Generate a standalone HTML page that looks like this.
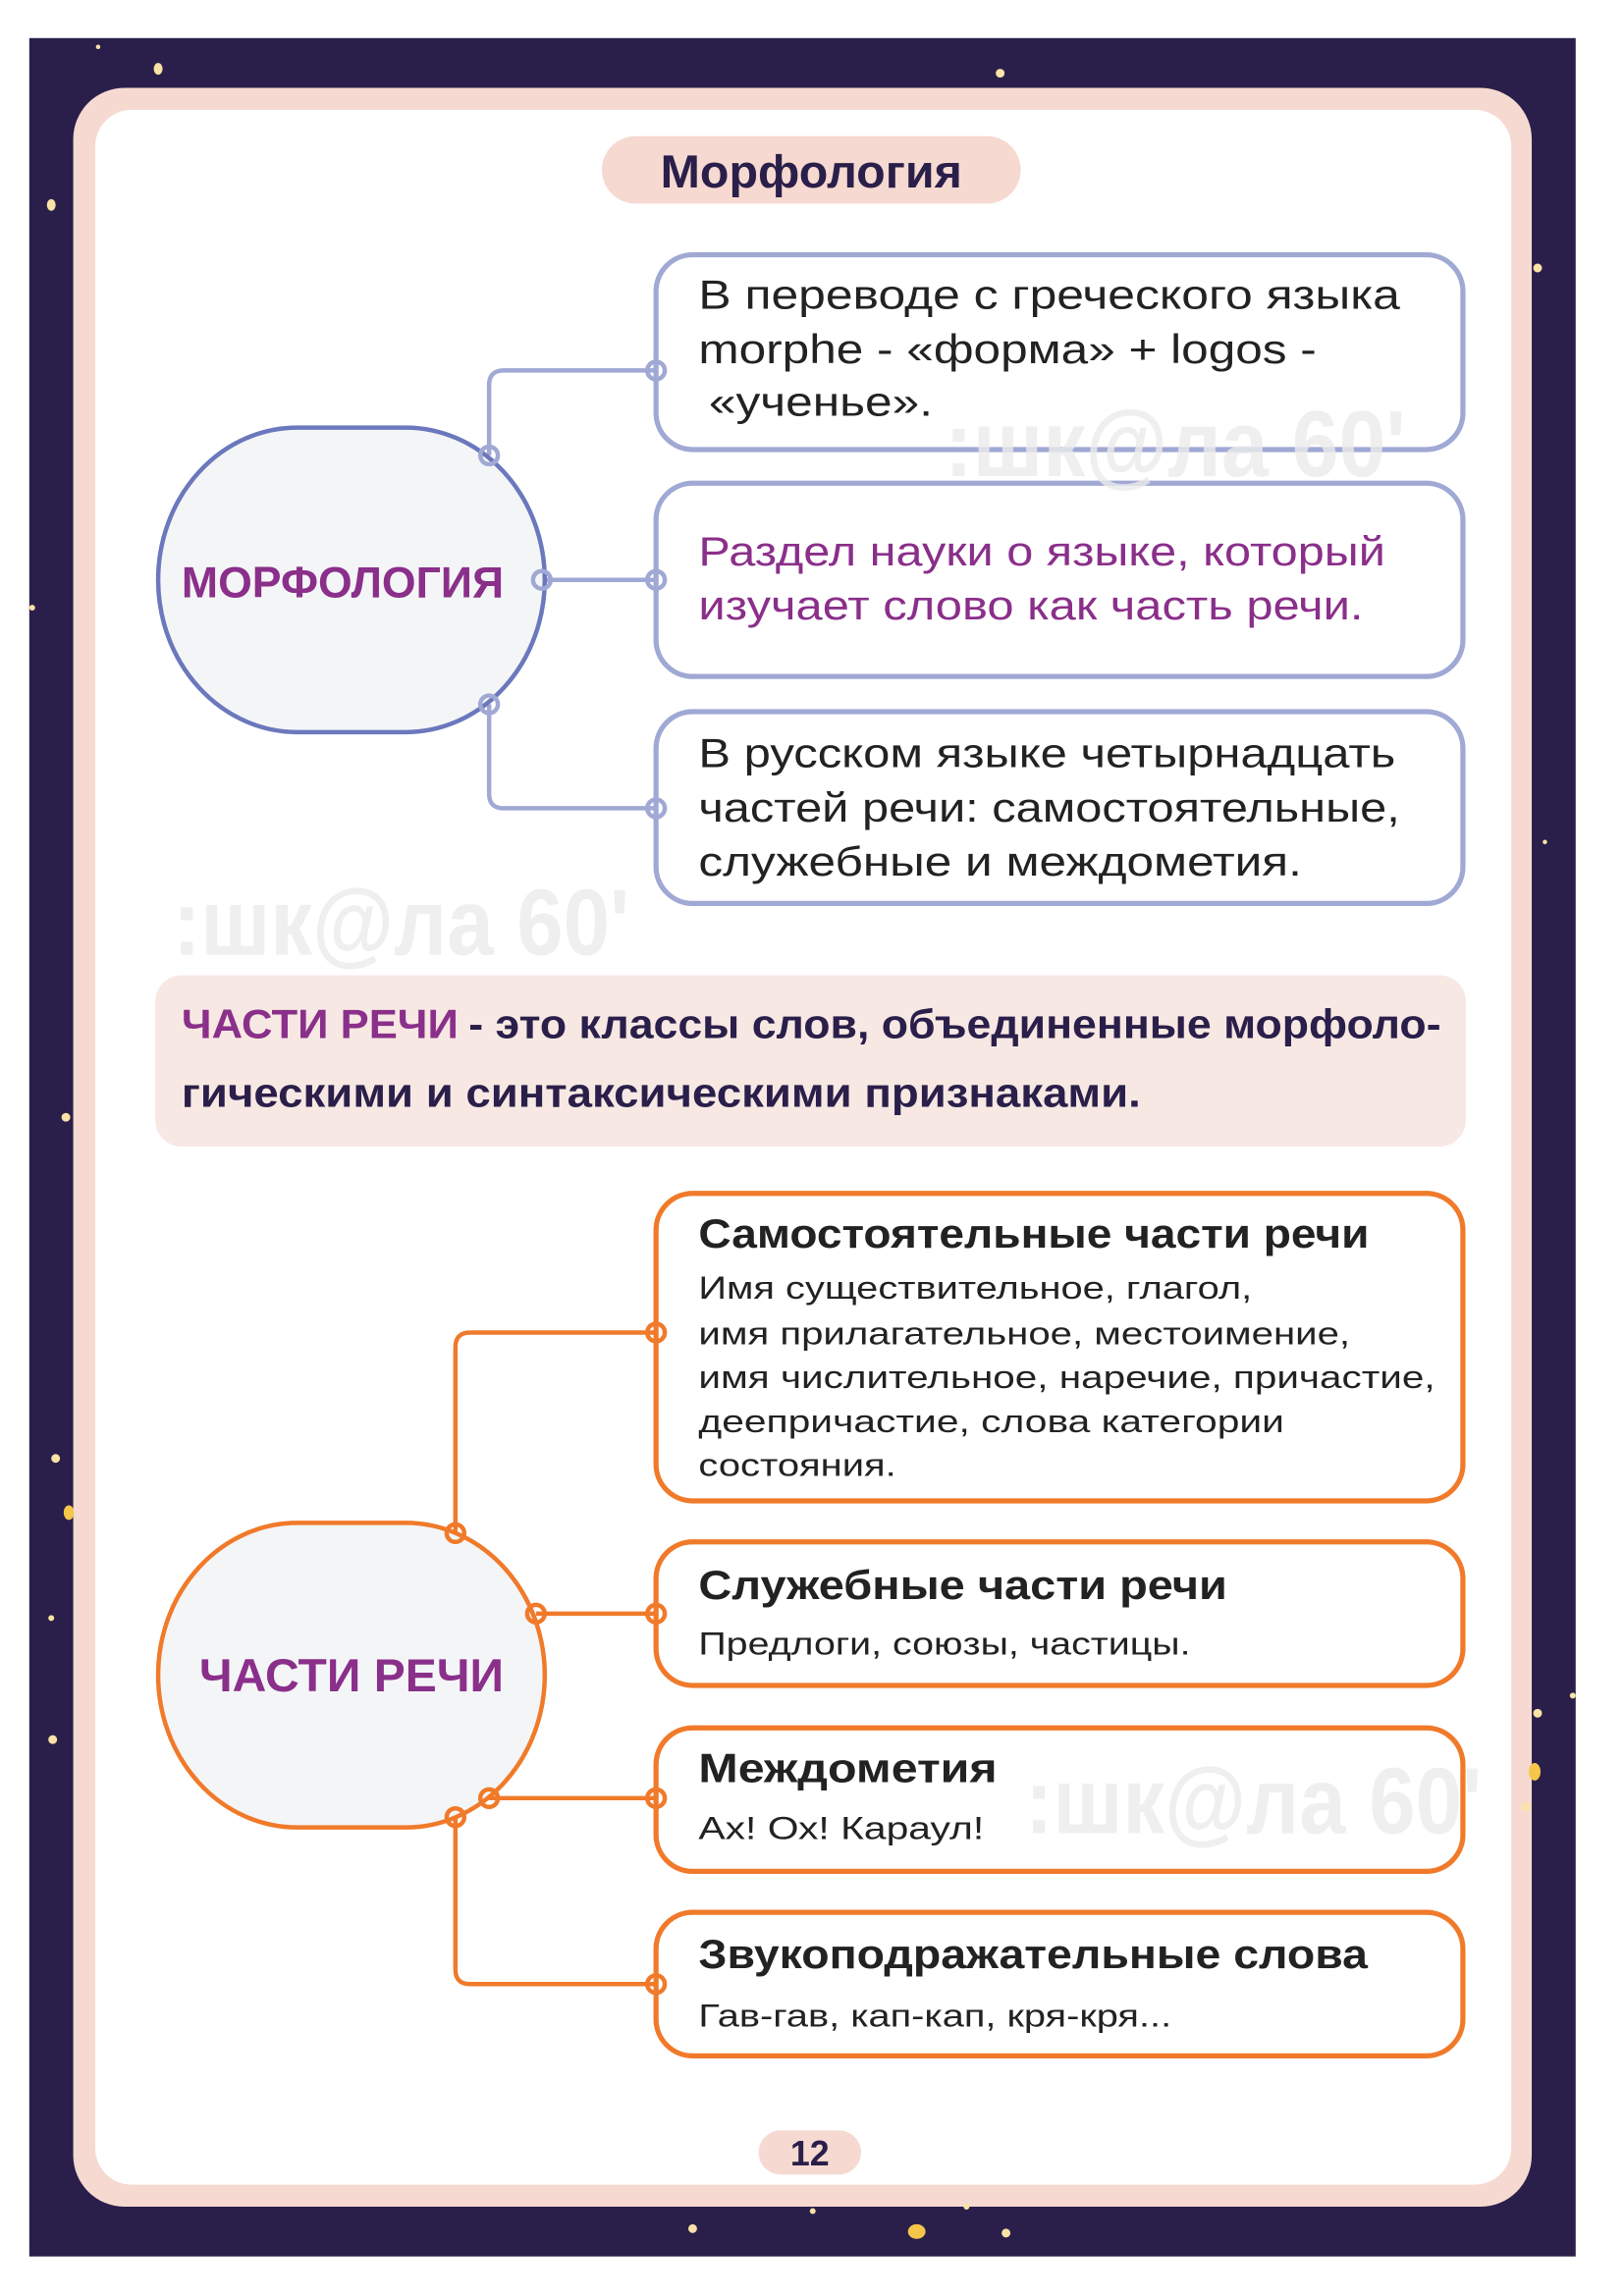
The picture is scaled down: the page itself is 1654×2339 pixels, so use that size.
<!DOCTYPE html>
<html><head><meta charset="utf-8">
<style>
html,body{margin:0;padding:0;background:#fff;}
svg{display:block;}
text{font-family:"Liberation Sans","DejaVu Sans",sans-serif;}
</style></head>
<body>
<svg width="1654" height="2339" viewBox="0 0 1109 1568" preserveAspectRatio="none" xmlns="http://www.w3.org/2000/svg">
<rect x="0" y="0" width="1109" height="1568" fill="#fff"/>
<rect x="20" y="26" width="1056" height="1515" fill="#2a1f4a"/>
<rect x="50" y="60" width="996" height="1447" rx="35" fill="#f6d9d0"/>
<rect x="65" y="75" width="967" height="1417" rx="25" fill="#fff"/>

<!-- stars -->
<g fill="#fbe2a6">
<ellipse cx="108" cy="47" rx="3" ry="4"/><circle cx="67" cy="32" r="1.5"/><ellipse cx="35" cy="140" rx="3" ry="4"/>
<circle cx="683" cy="50" r="3"/><circle cx="1050" cy="183" r="3"/><circle cx="22" cy="415" r="2"/>
<circle cx="1055" cy="575" r="1.5"/><circle cx="45" cy="763" r="3"/><circle cx="38" cy="996" r="3"/>
<circle cx="35" cy="1105" r="2"/><circle cx="1050" cy="1170" r="3"/><circle cx="1074" cy="1158" r="2"/>
<circle cx="1042" cy="1234" r="3"/><circle cx="36" cy="1188" r="3"/><circle cx="473" cy="1522" r="3"/>
<circle cx="555" cy="1510" r="2"/><circle cx="660" cy="1507" r="2"/><circle cx="687" cy="1525" r="3"/>
</g>
<g fill="#f5c64a">
<ellipse cx="47" cy="1033" rx="3.5" ry="5"/><ellipse cx="1048" cy="1210" rx="4" ry="6"/><ellipse cx="626" cy="1524" rx="6" ry="5"/>
</g>

<!-- title -->
<rect x="411" y="93" width="286" height="46" rx="23" fill="#f6d9d0"/>
<text x="554" y="128" text-anchor="middle" font-size="32" font-weight="bold" fill="#2a1f4a" textLength="206" lengthAdjust="spacingAndGlyphs">Морфология</text>

<!-- top connectors -->
<g fill="none" stroke="#a0a8d4" stroke-width="3">
<path d="M334 311 V263 Q334 253 344 253 H448"/>
<path d="M370 396 H448"/>
<path d="M334 481 V542 Q334 552 344 552 H448"/>
</g>
<g fill="#fff" stroke="#a0a8d4" stroke-width="3.5">
<rect x="448" y="174" width="551" height="133" rx="25"/>
<rect x="448" y="330" width="551" height="132" rx="25"/>
<rect x="448" y="486" width="551" height="131" rx="25"/>
</g>
<rect x="108" y="292" width="264" height="208" rx="95" ry="104" fill="#f4f5f7" stroke="#6b78bd" stroke-width="3"/>
<g fill="none" stroke="#a0a8d4" stroke-width="3">
<circle cx="334" cy="311" r="6"/><circle cx="448" cy="253" r="6"/><circle cx="370" cy="396" r="6"/>
<circle cx="448" cy="396" r="6"/><circle cx="334" cy="481" r="6"/><circle cx="448" cy="552" r="6"/>
</g>
<text x="234" y="408" text-anchor="middle" font-size="30" font-weight="bold" fill="#8a2f8a" textLength="220" lengthAdjust="spacingAndGlyphs">МОРФОЛОГИЯ</text>

<g font-size="28" fill="#222">
<text x="477" y="211" textLength="479" lengthAdjust="spacingAndGlyphs">В переводе с греческого языка</text>
<text x="477" y="248" textLength="422" lengthAdjust="spacingAndGlyphs">morphe - «форма» + logos -</text>
<text x="484" y="284" textLength="153" lengthAdjust="spacingAndGlyphs">«ученье».</text>
<text x="477" y="386" fill="#8a2f8a" textLength="469" lengthAdjust="spacingAndGlyphs">Раздел науки о языке, который</text>
<text x="477" y="423" fill="#8a2f8a" textLength="454" lengthAdjust="spacingAndGlyphs">изучает слово как часть речи.</text>
<text x="477" y="524" textLength="476" lengthAdjust="spacingAndGlyphs">В русском языке четырнадцать</text>
<text x="477" y="561" textLength="479" lengthAdjust="spacingAndGlyphs">частей речи: самостоятельные,</text>
<text x="477" y="598" textLength="412" lengthAdjust="spacingAndGlyphs">служебные и междометия.</text>
</g>

<!-- definition -->
<rect x="106" y="666" width="895" height="117" rx="18" fill="#f7e8e3"/>
<g font-size="28" font-weight="bold" fill="#2a1f4a">
<text x="124" y="709" fill="#8a2f8a" textLength="189" lengthAdjust="spacingAndGlyphs">ЧАСТИ РЕЧИ</text>
<text x="320" y="709" textLength="664" lengthAdjust="spacingAndGlyphs">- это классы слов, объединенные морфоло-</text>
<text x="124" y="756" textLength="655" lengthAdjust="spacingAndGlyphs">гическими и синтаксическими признаками.</text>
</g>

<!-- bottom connectors -->
<g fill="none" stroke="#f07a2a" stroke-width="3">
<path d="M311 1047 V920 Q311 910 321 910 H448"/>
<path d="M366 1102 H448"/>
<path d="M334 1228 H448"/>
<path d="M311 1241 V1345 Q311 1355 321 1355 H448"/>
</g>
<g fill="#fff" stroke="#f07a2a" stroke-width="3.5">
<rect x="448" y="815" width="551" height="210" rx="25"/>
<rect x="448" y="1053" width="551" height="98" rx="25"/>
<rect x="448" y="1180" width="551" height="98" rx="25"/>
<rect x="448" y="1306" width="551" height="98" rx="25"/>
</g>
<rect x="108" y="1040" width="264" height="208" rx="95" ry="104" fill="#f4f5f7" stroke="#f07a2a" stroke-width="3"/>
<g fill="none" stroke="#f07a2a" stroke-width="3">
<circle cx="311" cy="1047" r="6"/><circle cx="448" cy="910" r="6"/><circle cx="366" cy="1102" r="6"/>
<circle cx="448" cy="1102" r="6"/><circle cx="334" cy="1228" r="6"/><circle cx="448" cy="1228" r="6"/>
<circle cx="311" cy="1241" r="6"/><circle cx="448" cy="1355" r="6"/>
</g>
<text x="240" y="1155" text-anchor="middle" font-size="32" font-weight="bold" fill="#8a2f8a" textLength="208" lengthAdjust="spacingAndGlyphs">ЧАСТИ РЕЧИ</text>

<g fill="#222">
<text x="477" y="852" font-size="28" font-weight="bold" textLength="458" lengthAdjust="spacingAndGlyphs">Самостоятельные части речи</text>
<g font-size="22">
<text x="477" y="887" textLength="378" lengthAdjust="spacingAndGlyphs">Имя существительное, глагол,</text>
<text x="477" y="918" textLength="445" lengthAdjust="spacingAndGlyphs">имя прилагательное, местоимение,</text>
<text x="477" y="948" textLength="503" lengthAdjust="spacingAndGlyphs">имя числительное,  наречие, причастие,</text>
<text x="477" y="978" textLength="400" lengthAdjust="spacingAndGlyphs">деепричастие, слова категории</text>
<text x="477" y="1008" textLength="135" lengthAdjust="spacingAndGlyphs">состояния.</text>
</g>
<text x="477" y="1092" font-size="28" font-weight="bold" textLength="361" lengthAdjust="spacingAndGlyphs">Служебные части речи</text>
<text x="477" y="1130" font-size="22" textLength="336" lengthAdjust="spacingAndGlyphs">Предлоги, союзы, частицы.</text>
<text x="477" y="1217" font-size="28" font-weight="bold" textLength="204" lengthAdjust="spacingAndGlyphs">Междометия</text>
<text x="477" y="1256" font-size="22" textLength="195" lengthAdjust="spacingAndGlyphs">Ах! Ох!  Караул!</text>
<text x="477" y="1344" font-size="28" font-weight="bold" textLength="457" lengthAdjust="spacingAndGlyphs">Звукоподражательные слова</text>
<text x="477" y="1384" font-size="22" textLength="323" lengthAdjust="spacingAndGlyphs">Гав-гав, кап-кап, кря-кря...</text>
</g>

<!-- watermarks (on top) -->
<g fill="#ececec" opacity="0.8" font-weight="bold" font-size="64">
<text x="645" y="325" textLength="315" lengthAdjust="spacingAndGlyphs">:шк@ла 60ʹ</text>
<text x="118" y="652" textLength="312" lengthAdjust="spacingAndGlyphs">:шк@ла 60ʹ</text>
<text x="700" y="1252" textLength="312" lengthAdjust="spacingAndGlyphs">:шк@ла 60ʹ</text>
</g>

<!-- page number -->
<rect x="518" y="1455" width="70" height="30" rx="15" fill="#f6d9d0"/>
<text x="553" y="1479" text-anchor="middle" font-size="24" font-weight="bold" fill="#2a1f4a">12</text>
</svg>
</body></html>
